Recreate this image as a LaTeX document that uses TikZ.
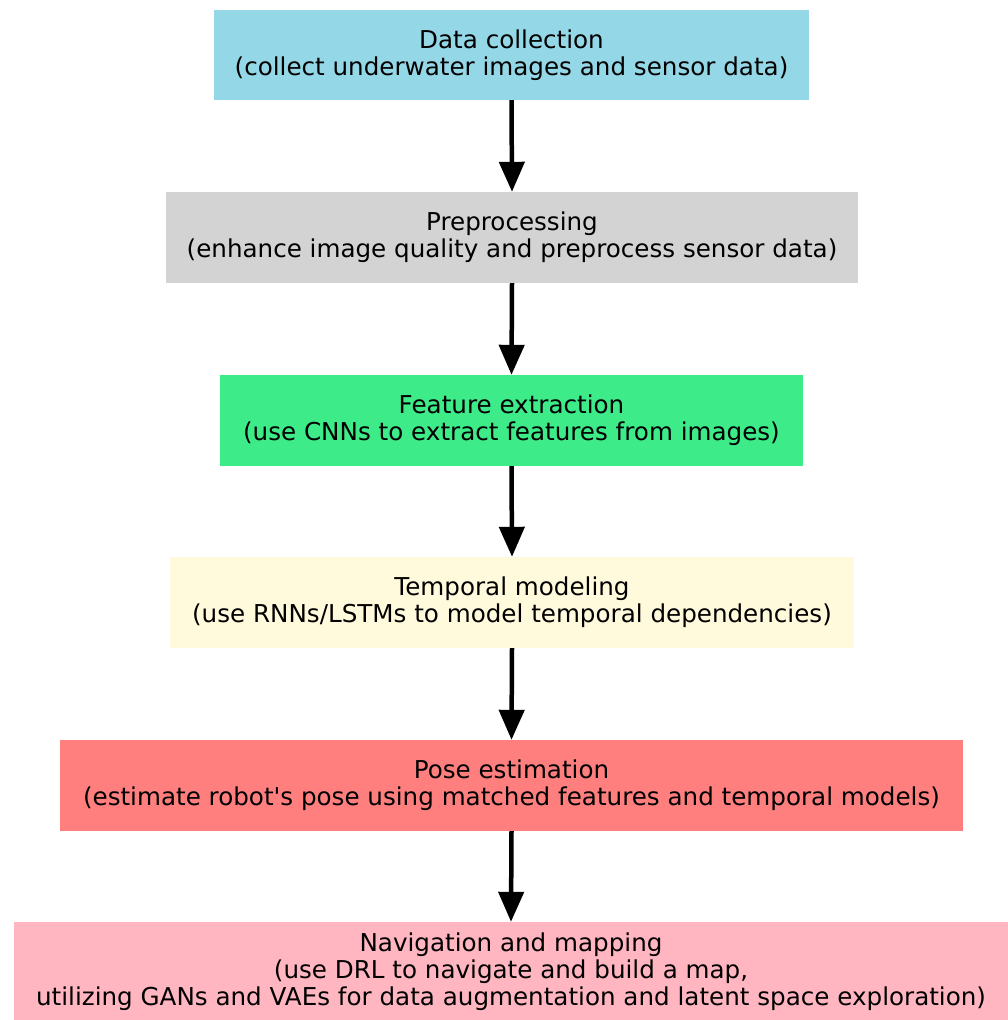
\documentclass[tikz,border=0pt]{standalone}
\usepackage{fontspec}
\setmainfont{DejaVu Sans}[Ligatures=TeXOff]
\usetikzlibrary{arrows.meta}
\definecolor{cCollect}{RGB}{148,216,231}
\definecolor{cPre}{RGB}{211,211,211}
\definecolor{cFeat}{RGB}{61,235,137}
\definecolor{cTemp}{RGB}{255,250,220}
\definecolor{cPose}{RGB}{255,127,127}
\definecolor{cNav}{RGB}{255,182,193}
\tikzset{
  x=1pt, y=-1pt,
  stage/.style={rectangle, inner sep=0pt, align=center, text=black,
    font=\fontsize{24.6}{27}\selectfont},
  flow/.style={line width=4.5pt, -{Triangle[length=30pt,width=25pt]}}
}
\begin{document}
\begin{tikzpicture}
\useasboundingbox (0,0) rectangle (1008,1020);
\node[stage, fill=cCollect, minimum width=595pt, minimum height=90pt] (collect) at (511.5,55)
  {Data collection\\(collect underwater images and sensor data)};
\node[stage, fill=cPre, minimum width=692pt, minimum height=91pt] (pre) at (512,237.5)
  {Preprocessing\\(enhance image quality and preprocess sensor data)};
\node[stage, fill=cFeat, minimum width=583pt, minimum height=91pt] (feat) at (511.5,420.5)
  {Feature extraction\\(use CNNs to extract features from images)};
\node[stage, fill=cTemp, minimum width=684pt, minimum height=91pt] (temp) at (512,602.5)
  {Temporal modeling\\(use RNNs/LSTMs to model temporal dependencies)};
\node[stage, fill=cPose, minimum width=903pt, minimum height=91pt] (pose) at (511.5,785.5)
  {Pose estimation\\(estimate robot's pose using matched features and temporal models)};
\node[stage, fill=cNav, minimum width=994pt, minimum height=99pt] (nav) at (511,971.5)
  {Navigation and mapping\\(use DRL to navigate and build a map,\\utilizing GANs and VAEs for data augmentation and latent space exploration)};
\draw[flow] (collect.south) -- (pre.north);
\draw[flow] (pre.south) -- (feat.north);
\draw[flow] (feat.south) -- (temp.north);
\draw[flow] (temp.south) -- (pose.north);
\draw[flow] (pose.south) -- (nav.north);
\end{tikzpicture}
\end{document}
